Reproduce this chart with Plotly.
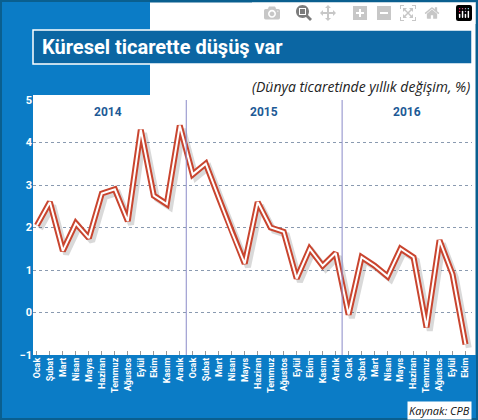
import plotly.graph_objects as go

months = ["Ocak","Şubat","Mart","Nisan","Mayıs","Haziran","Temmuz","Ağustos","Eylül","Ekim","Kasım","Aralık"]
labels = months + months + months[:10]
years = ["2014", "2015", "2016"]
values = [2.05, 2.6, 1.45, 2.1, 1.75, 2.8, 2.9, 2.15, 4.3, 2.75, 2.55, 4.4,
          3.25, 3.5, 2.7, 1.9, 1.15, 2.6, 2.0, 1.9, 0.8, 1.5, 1.1, 1.4,
          -0.05, 1.3, 1.1, 0.85, 1.5, 1.3, -0.35, 1.7, 0.9, -0.75]
x = list(range(len(values)))
BLUE = "#0b7cc6"
DARK = "#0b66a3"

fig = go.Figure()
fig.add_trace(go.Scatter(x=[v + 0.25 for v in x], y=[v - 0.08 for v in values], mode="lines",
                         line=dict(color="rgba(0,0,0,0.15)", width=6), hoverinfo="skip"))
fig.add_trace(go.Scatter(x=x, y=values, mode="lines", line=dict(color="#c9452f", width=6)))
fig.add_trace(go.Scatter(x=x, y=values, mode="lines", line=dict(color="white", width=2)))

fig.update_layout(
    width=478, height=420, showlegend=False,
    paper_bgcolor="white", plot_bgcolor="white",
    margin=dict(l=33, r=6, t=100, b=65),
    xaxis=dict(range=[-0.3, 33.5], tickmode="array", tickvals=x, ticktext=labels,
               tickangle=-90, tickfont=dict(family="Roboto", size=9, color="white", weight="bold"),
               showgrid=False, zeroline=False, ticks="inside", ticklen=4, tickcolor="#999"),
    yaxis=dict(range=[-1, 5], dtick=1, showgrid=True, gridcolor="#8a9ab0", griddash="dot",
               zeroline=False, tickfont=dict(family="Roboto", size=11, color="white", weight="bold")),
)
shp = [
    dict(type="rect", xref="paper", yref="paper", x0=-32/439, x1=1+5/439, y0=-64/255, y1=1+99/255,
         line=dict(color="#0a5f8f", width=3), layer="below"),
    dict(type="rect", xref="paper", yref="paper", x0=-31/439, x1=0, y0=-63/255, y1=1+98/255,
         fillcolor=BLUE, line=dict(width=0), layer="below"),
    dict(type="rect", xref="paper", yref="paper", x0=-31/439, x1=117/439, y0=1+5/255, y1=1+98/255,
         fillcolor=BLUE, line=dict(width=0), layer="below"),
    dict(type="rect", xref="paper", yref="paper", x0=-31/439, x1=1+4/439, y0=-63/255, y1=0,
         fillcolor=BLUE, line=dict(width=0), layer="below"),
    dict(type="rect", xref="paper", yref="paper", x0=0, x1=1, y0=1+36/255, y1=1+70/255,
         fillcolor=DARK, line=dict(color="white", width=1.5)),
]
for d in [11.5, 23.5]:
    shp.append(dict(type="line", x0=d, x1=d, y0=-1, y1=5, line=dict(color="#8a8ac8", width=1)))
fig.update_layout(shapes=shp)

ann = [
    dict(text="Küresel ticarette düşüş var", xref="paper", yref="paper", x=0.015, y=1+53/255,
         xanchor="left", yanchor="middle", showarrow=False,
         font=dict(family="Roboto", size=20, color="white", weight="bold")),
    dict(text="<i>(Dünya ticaretinde yıllık değişim, %)</i>", xref="paper", yref="paper", x=1, y=1+13/255,
         xanchor="right", yanchor="middle", showarrow=False,
         font=dict(family="Open Sans", size=14, color="#222")),
    dict(text="Kaynak: CPB", xref="paper", yref="paper", x=1, y=-55/255, xanchor="right", yanchor="middle",
         showarrow=False, bgcolor="white", font=dict(family="Open Sans", size=11, color="#111", style="italic")),
]
for i, yr in enumerate(years):
    ann.append(dict(text=yr, x=[5.5, 17.5, 28.5][i], y=4.72, showarrow=False,
                    font=dict(family="Roboto", size=12, color="#1d5a96", weight="bold")))
fig.update_layout(annotations=ann)
fig.write_html("out.html")
with open("out.html", encoding="utf-8") as f:
    html = f.read()
html = html.replace("<head>", "<head><style>html,body{margin:0;padding:0;overflow:hidden}</style>", 1)
with open("out.html", "w", encoding="utf-8") as f:
    f.write(html)
